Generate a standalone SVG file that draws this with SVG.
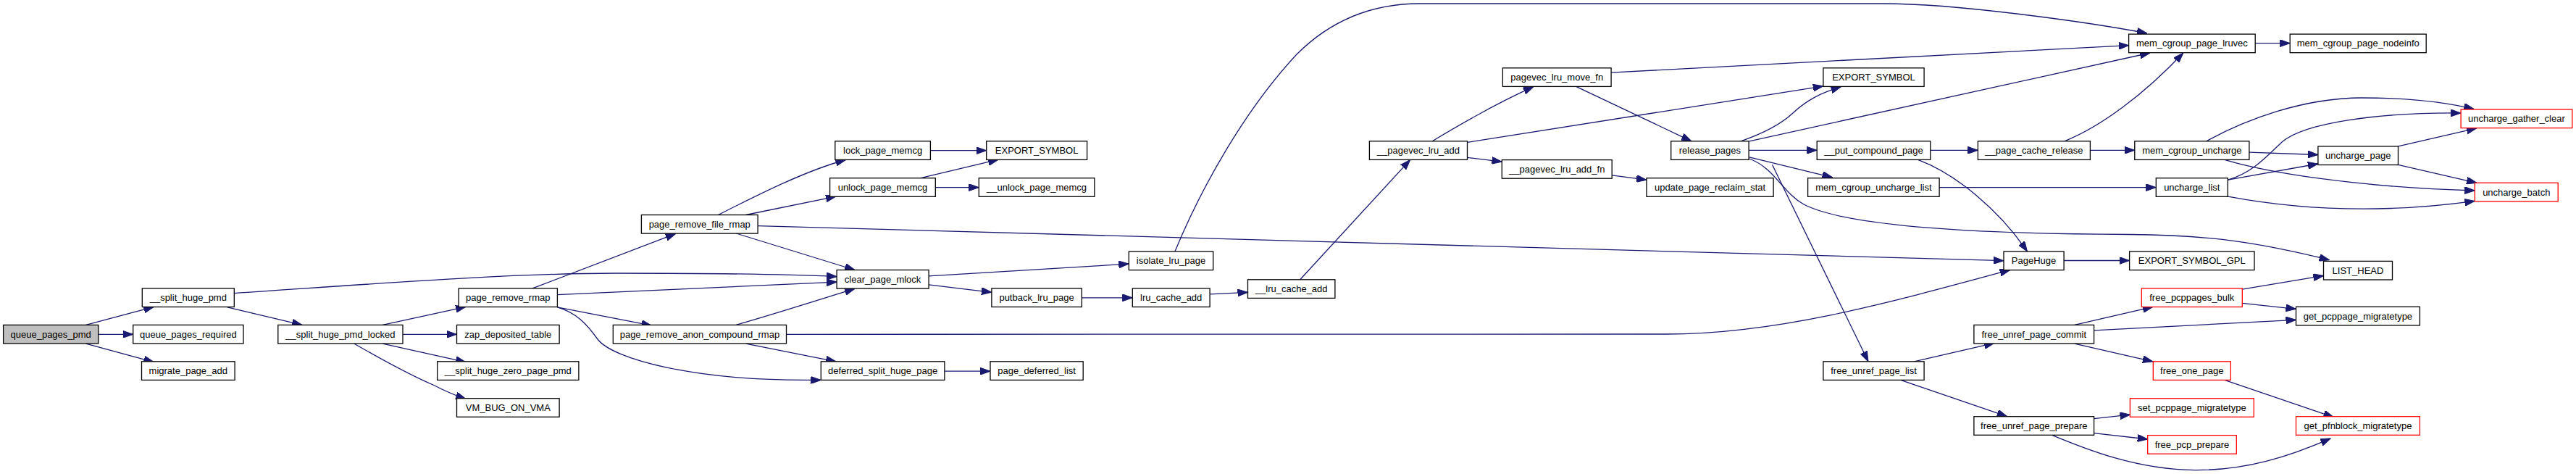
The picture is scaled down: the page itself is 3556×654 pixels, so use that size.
<svg xmlns="http://www.w3.org/2000/svg" width="3556" height="654" viewBox="0 0 3556 654">
<style>
.n rect{fill:#fff;stroke:#000;stroke-width:1.3}
.n.root rect{fill:#bfbfbf}
.n.red rect{stroke:#f00}
.n text{font-family:"Liberation Sans",Arial,Helvetica,sans-serif;font-size:13px;text-anchor:middle;fill:#000}
#edges path{fill:none;stroke:#191970;stroke-width:1.3;marker-end:url(#a)}
</style>
<defs>
<marker id="a" viewBox="0 0 14 10" markerUnits="userSpaceOnUse" markerWidth="14" markerHeight="10" refX="14" refY="5" orient="auto">
<path d="M0,0 L14,5 L0,10 z" fill="#191970" stroke="#191970"/>
</marker>
</defs>
<rect width="3556" height="654" fill="#fff"/>
<g id="edges">
<path d="M118.6,448.4 L212.4,423.3"/>
<path d="M135.8,461.3 L183.7,461.3"/>
<path d="M118.6,474.2 L212.4,499.7"/>
<path d="M313.8,423.8 L417.1,448.4"/>
<path d="M323.3,404.6 C500,393 700,377 850,377 C1000,377 1100,379 1155.1,381.6"/>
<path d="M528.1,448.4 L643.1,423.3"/>
<path d="M556,461.3 L630.5,461.3"/>
<path d="M528.1,474.2 L643.1,499.7"/>
<path d="M489,474.2 C520,492 560,515 600,532 C615,540 630,546 643.1,550.6"/>
<path d="M735,397.9 L932.8,322.4"/>
<path d="M769.4,406.7 L1155.1,389.1"/>
<path d="M769.4,423.8 L899.5,449.2"/>
<path d="M769.4,423.8 C795,431 810,447 825,468 C845,495 960,527 1133.3,524.3"/>
<path d="M991.4,296.5 C1040,272 1110,236 1167.4,220.5"/>
<path d="M1029.6,296.5 L1154,271.1"/>
<path d="M1016.2,322 L1180,372.5"/>
<path d="M1046.1,311.6 L2766,359.7"/>
<path d="M1016.2,448.4 C1060,436 1130,414 1180,398.3"/>
<path d="M1029.6,474.2 L1154,498.8"/>
<path d="M1085.5,461.3 L2300,461 C2450,461 2600,420 2774.7,372.5"/>
<path d="M1284.4,207.7 L1361.7,207.7"/>
<path d="M1271,245.7 L1378.1,220.2"/>
<path d="M1291.3,258.6 L1351.3,258.6"/>
<path d="M1282.1,380.8 L1558.3,364.1"/>
<path d="M1282.1,392.9 L1368.9,403.3"/>
<path d="M1493.3,410.8 L1563.3,410.8"/>
<path d="M1670.1,405.8 L1722.5,403.3"/>
<path d="M1794.7,385.8 L1946.6,220.6"/>
<path d="M1621.9,347 C1660,255 1720,150 1790,75 C1840,25 1900,5 1960,5 L2600,5 C2700,5 2880,30 2963.9,45.9"/>
<path d="M1303.9,512.2 L1367,512.2"/>
<path d="M1977.2,194.8 C2010,175 2060,145 2116.9,119.7"/>
<path d="M2025.5,217.3 L2073.3,223.1"/>
<path d="M2025.5,196.4 L2516.9,118.9"/>
<path d="M2224.1,100.1 L2938.8,62.6"/>
<path d="M2176.2,119.7 L2335,194.8"/>
<path d="M2225.2,241.9 L2273,248.2"/>
<path d="M2403,194.8 C2440,182 2460,170 2475,156 C2495,137 2515,128 2541.4,119.7"/>
<path d="M2414.9,194.8 L2967.9,73"/>
<path d="M2414.1,207.3 L2508.2,207.3"/>
<path d="M2414.9,216.9 L2529.6,244.8"/>
<path d="M2414.9,219 C2450,232 2460,265 2490,282 C2560,318 2800,323 2940,323.5 C3050,324 3120,335 3215.5,358.7"/>
<path d="M2446.5,227.3 L2579,498.8"/>
<path d="M2664.8,207.3 L2730.4,207.3"/>
<path d="M2648.2,220.6 C2700,240 2760,290 2798.5,347"/>
<path d="M2849.9,194.8 C2900,175 2960,130 3013.8,73"/>
<path d="M2885.4,207.3 L2946.8,207.3"/>
<path d="M2677.1,258.6 L2976.3,258.6"/>
<path d="M2849.1,359.5 L2939.6,359.5"/>
<path d="M2642.3,498.8 L2753,473.4"/>
<path d="M2624.5,524.7 L2770.8,574.7"/>
<path d="M2863.7,448.4 L2971.9,423.3"/>
<path d="M2890.6,455.9 L3169.5,441.3"/>
<path d="M2863.7,474.2 L2971.9,498.8"/>
<path d="M2890.6,577.7 L2940.4,572.2"/>
<path d="M2890.6,597.7 L2964.7,606"/>
<path d="M2833.3,600.6 C2880,620 2950,648 3030,648.6 C3100,649 3160,630 3217.4,604.8"/>
<path d="M3113.2,59.6 L3161.2,59.6"/>
<path d="M3045.8,194.8 C3100,165 3180,135 3260,135 C3330,135 3380,142 3415,150.5"/>
<path d="M3104.9,210.2 L3199.9,213.5"/>
<path d="M3071.7,220.6 C3130,238 3250,258 3416.3,263"/>
<path d="M3075.7,248.2 C3110,238 3130,215 3150,196 C3180,170 3280,155 3397.1,156"/>
<path d="M3075.7,248.2 L3199.9,226"/>
<path d="M3075.7,271.1 C3150,285 3230,290 3300,287.5 C3350,286 3390,281 3416.3,277.4"/>
<path d="M3310.5,201.9 L3419,176.8"/>
<path d="M3310.5,227.3 L3419,252.3"/>
<path d="M3095.3,399.2 L3207.5,380.4"/>
<path d="M3095.3,418.3 L3169.5,426.3"/>
<path d="M3071.7,524.7 L3221.4,575.6"/>
</g>
<g id="queue_pages_pmd" class="n root"><rect x="4.6" y="448.4" width="131.2" height="25.6"/><text x="70.2" y="465.7">queue_pages_pmd</text></g>
<g id="__split_huge_pmd" class="n"><rect x="196.3" y="397.9" width="127" height="25.6"/><text x="259.8" y="415.2">__split_huge_pmd</text></g>
<g id="queue_pages_required" class="n"><rect x="183.7" y="448.4" width="152.3" height="25.6"/><text x="259.85" y="465.7">queue_pages_required</text></g>
<g id="migrate_page_add" class="n"><rect x="195.5" y="498.8" width="128.6" height="25.6"/><text x="259.8" y="516.1">migrate_page_add</text></g>
<g id="__split_huge_pmd_locked" class="n"><rect x="383.8" y="448.4" width="172.2" height="25.6"/><text x="469.9" y="465.7">__split_huge_pmd_locked</text></g>
<g id="page_remove_rmap" class="n"><rect x="633.2" y="397.9" width="136.2" height="25.6"/><text x="701.3" y="415.2">page_remove_rmap</text></g>
<g id="zap_deposited_table" class="n"><rect x="630.5" y="448.4" width="141.6" height="25.6"/><text x="701.3" y="465.7">zap_deposited_table</text></g>
<g id="__split_huge_zero_page_pmd" class="n"><rect x="603.7" y="498.8" width="195.2" height="25.6"/><text x="701.3" y="516.1">__split_huge_zero_page_pmd</text></g>
<g id="VM_BUG_ON_VMA" class="n"><rect x="630.5" y="549.7" width="141.6" height="25.6"/><text x="701.3" y="567">VM_BUG_ON_VMA</text></g>
<g id="page_remove_file_rmap" class="n"><rect x="885.4" y="296.5" width="160.7" height="25.6"/><text x="965.75" y="313.8">page_remove_file_rmap</text></g>
<g id="page_remove_anon_compound_rmap" class="n"><rect x="846.3" y="448.4" width="239.2" height="25.6"/><text x="965.9" y="465.7">page_remove_anon_compound_rmap</text></g>
<g id="lock_page_memcg" class="n"><rect x="1152.8" y="194.8" width="131.6" height="25.6"/><text x="1218.6" y="212.1">lock_page_memcg</text></g>
<g id="unlock_page_memcg" class="n"><rect x="1145.6" y="245.7" width="145.7" height="25.6"/><text x="1218.45" y="263">unlock_page_memcg</text></g>
<g id="clear_page_mlock" class="n"><rect x="1155.1" y="372.5" width="127" height="25.6"/><text x="1218.6" y="389.8">clear_page_mlock</text></g>
<g id="deferred_split_huge_page" class="n"><rect x="1133.3" y="498.8" width="170.6" height="25.6"/><text x="1218.6" y="516.1">deferred_split_huge_page</text></g>
<g id="EXPORT_SYMBOL_1" class="n"><rect x="1361.7" y="194.8" width="138.9" height="25.6"/><text x="1431.15" y="212.1">EXPORT_SYMBOL</text></g>
<g id="__unlock_page_memcg" class="n"><rect x="1351.3" y="245.7" width="159.6" height="25.6"/><text x="1431.1" y="263">__unlock_page_memcg</text></g>
<g id="isolate_lru_page" class="n"><rect x="1558.3" y="347" width="116.4" height="25.6"/><text x="1616.5" y="364.3">isolate_lru_page</text></g>
<g id="putback_lru_page" class="n"><rect x="1368.9" y="397.9" width="124.4" height="25.6"/><text x="1431.1" y="415.2">putback_lru_page</text></g>
<g id="lru_cache_add" class="n"><rect x="1563.3" y="397.9" width="106.8" height="25.6"/><text x="1616.7" y="415.2">lru_cache_add</text></g>
<g id="__lru_cache_add" class="n"><rect x="1722.5" y="385.8" width="120.4" height="25.6"/><text x="1782.7" y="403.1">__lru_cache_add</text></g>
<g id="page_deferred_list" class="n"><rect x="1367" y="498.8" width="128.2" height="25.6"/><text x="1431.1" y="516.1">page_deferred_list</text></g>
<g id="__pagevec_lru_add" class="n"><rect x="1890.4" y="194.8" width="135.1" height="25.6"/><text x="1957.95" y="212.1">__pagevec_lru_add</text></g>
<g id="pagevec_lru_move_fn" class="n"><rect x="2074.4" y="93.8" width="149.7" height="25.6"/><text x="2149.25" y="111.1">pagevec_lru_move_fn</text></g>
<g id="__pagevec_lru_add_fn" class="n"><rect x="2073.3" y="220.6" width="151.9" height="25.6"/><text x="2149.25" y="237.9">__pagevec_lru_add_fn</text></g>
<g id="release_pages" class="n"><rect x="2306.7" y="194.8" width="107.4" height="25.6"/><text x="2360.4" y="212.1">release_pages</text></g>
<g id="update_page_reclaim_stat" class="n"><rect x="2273" y="245.7" width="175.1" height="25.6"/><text x="2360.55" y="263">update_page_reclaim_stat</text></g>
<g id="EXPORT_SYMBOL_2" class="n"><rect x="2516.9" y="93.8" width="139.2" height="25.6"/><text x="2586.5" y="111.1">EXPORT_SYMBOL</text></g>
<g id="__put_compound_page" class="n"><rect x="2508.2" y="194.8" width="156.6" height="25.6"/><text x="2586.5" y="212.1">__put_compound_page</text></g>
<g id="__page_cache_release" class="n"><rect x="2730.4" y="194.8" width="155" height="25.6"/><text x="2807.9" y="212.1">__page_cache_release</text></g>
<g id="mem_cgroup_uncharge_list" class="n"><rect x="2495.6" y="245.7" width="181.5" height="25.6"/><text x="2586.35" y="263">mem_cgroup_uncharge_list</text></g>
<g id="PageHuge" class="n"><rect x="2766" y="347" width="83.1" height="25.6"/><text x="2807.55" y="364.3">PageHuge</text></g>
<g id="free_unref_page_commit" class="n"><rect x="2724.9" y="448.4" width="165.7" height="25.6"/><text x="2807.75" y="465.7">free_unref_page_commit</text></g>
<g id="free_unref_page_list" class="n"><rect x="2516.9" y="498.8" width="139.2" height="25.6"/><text x="2586.5" y="516.1">free_unref_page_list</text></g>
<g id="free_unref_page_prepare" class="n"><rect x="2724.9" y="574.7" width="165.7" height="25.6"/><text x="2807.75" y="592">free_unref_page_prepare</text></g>
<g id="mem_cgroup_page_lruvec" class="n"><rect x="2938.6" y="47.1" width="174.6" height="25.6"/><text x="3025.9" y="64.4">mem_cgroup_page_lruvec</text></g>
<g id="mem_cgroup_page_nodeinfo" class="n"><rect x="3161.2" y="47.1" width="188" height="25.6"/><text x="3255.2" y="64.4">mem_cgroup_page_nodeinfo</text></g>
<g id="uncharge_gather_clear" class="n red"><rect x="3397.1" y="151" width="153.7" height="25.6"/><text x="3473.95" y="168.3">uncharge_gather_clear</text></g>
<g id="mem_cgroup_uncharge" class="n"><rect x="2946.8" y="194.8" width="158.1" height="25.6"/><text x="3025.85" y="212.1">mem_cgroup_uncharge</text></g>
<g id="uncharge_page" class="n"><rect x="3199.9" y="201.9" width="110.6" height="25.6"/><text x="3255.2" y="219.2">uncharge_page</text></g>
<g id="uncharge_list" class="n"><rect x="2976.3" y="245.7" width="99" height="25.6"/><text x="3025.8" y="263">uncharge_list</text></g>
<g id="uncharge_batch" class="n red"><rect x="3416.3" y="252.3" width="114.9" height="25.6"/><text x="3473.75" y="269.6">uncharge_batch</text></g>
<g id="EXPORT_SYMBOL_GPL" class="n"><rect x="2939.6" y="347" width="172.4" height="25.6"/><text x="3025.8" y="364.3">EXPORT_SYMBOL_GPL</text></g>
<g id="LIST_HEAD" class="n"><rect x="3207.5" y="360.4" width="95" height="25.6"/><text x="3255" y="377.7">LIST_HEAD</text></g>
<g id="free_pcppages_bulk" class="n red"><rect x="2956.3" y="397.9" width="139" height="25.6"/><text x="3025.8" y="415.2">free_pcppages_bulk</text></g>
<g id="get_pcppage_migratetype" class="n"><rect x="3169.5" y="423.3" width="170.9" height="25.6"/><text x="3254.95" y="440.6">get_pcppage_migratetype</text></g>
<g id="free_one_page" class="n red"><rect x="2972.3" y="498.8" width="107" height="25.6"/><text x="3025.8" y="516.1">free_one_page</text></g>
<g id="set_pcppage_migratetype" class="n red"><rect x="2940.4" y="549.7" width="170.9" height="25.6"/><text x="3025.85" y="567">set_pcppage_migratetype</text></g>
<g id="get_pfnblock_migratetype" class="n red"><rect x="3169.5" y="574.7" width="170.9" height="25.6"/><text x="3254.95" y="592">get_pfnblock_migratetype</text></g>
<g id="free_pcp_prepare" class="n red"><rect x="2964.7" y="600.6" width="122.6" height="25.6"/><text x="3026" y="617.9">free_pcp_prepare</text></g>
</svg>
